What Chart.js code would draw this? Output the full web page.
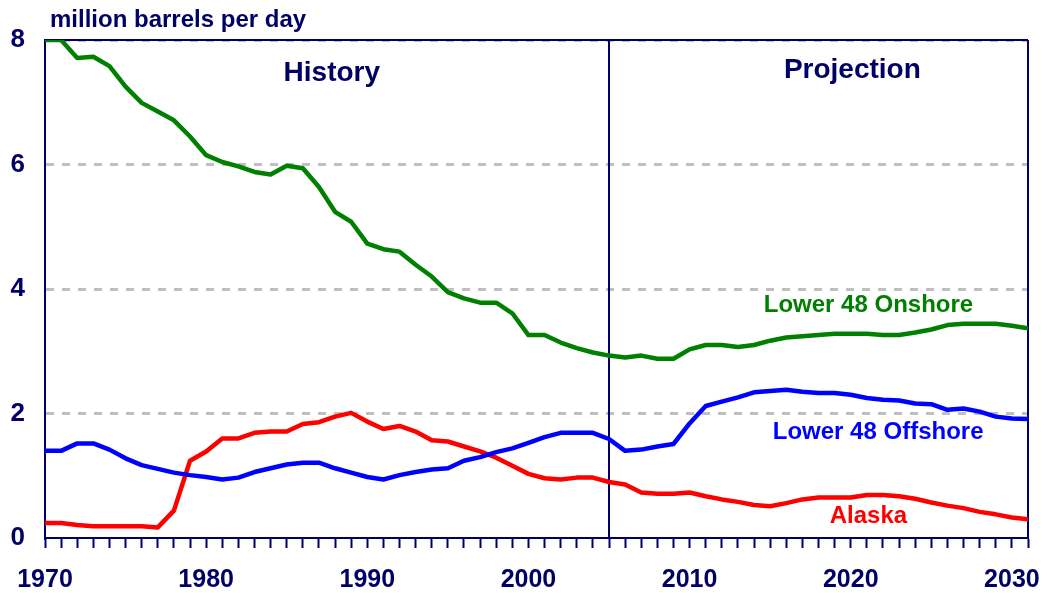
<!DOCTYPE html>
<html>
<head>
<meta charset="utf-8">
<script src="https://cdn.jsdelivr.net/npm/chart.js@4/dist/chart.umd.min.js"></script>
<style>
html,body{margin:0;padding:0;background:#fff;}
#wrap{width:1047px;height:593px;}
</style>
</head>
<body>
<div id="wrap"><canvas id="c" width="1047" height="593"></canvas></div>
<script>
const years = [1970,1971,1972,1973,1974,1975,1976,1977,1978,1979,
  1980,1981,1982,1983,1984,1985,1986,1987,1988,1989,
  1990,1991,1992,1993,1994,1995,1996,1997,1998,1999,
  2000,2001,2002,2003,2004,2005,2006,2007,2008,2009,
  2010,2011,2012,2013,2014,2015,2016,2017,2018,2019,
  2020,2021,2022,2023,2024,2025,2026,2027,2028,2029,
  2030,2031];

const onshore = [8.00,8.00,7.71,7.73,7.58,7.25,6.99,6.85,6.71,6.45,
  6.15,6.04,5.97,5.88,5.84,5.98,5.94,5.64,5.24,5.08,
  4.73,4.64,4.60,4.39,4.20,3.95,3.85,3.78,3.78,3.61,
  3.26,3.26,3.14,3.05,2.98,2.93,2.90,2.93,2.88,2.88,
  3.03,3.10,3.10,3.07,3.10,3.17,3.22,3.24,3.26,3.28,
  3.28,3.28,3.26,3.26,3.30,3.35,3.42,3.44,3.44,3.44,
  3.41,3.37];

const offshore = [1.40,1.40,1.52,1.52,1.42,1.28,1.17,1.11,1.05,1.01,
  0.98,0.94,0.97,1.06,1.12,1.18,1.21,1.21,1.12,1.05,
  0.98,0.94,1.01,1.06,1.10,1.12,1.24,1.30,1.38,1.44,
  1.53,1.62,1.69,1.69,1.69,1.59,1.40,1.42,1.47,1.51,
  1.84,2.12,2.19,2.26,2.34,2.36,2.38,2.35,2.33,2.33,
  2.30,2.25,2.22,2.21,2.16,2.15,2.06,2.08,2.03,1.95,
  1.92,1.91];

const alaska = [0.24,0.24,0.21,0.19,0.19,0.19,0.19,0.17,0.44,1.24,
  1.39,1.60,1.60,1.69,1.71,1.71,1.83,1.86,1.95,2.01,
  1.87,1.75,1.80,1.71,1.57,1.55,1.47,1.39,1.29,1.16,
  1.03,0.96,0.94,0.97,0.97,0.90,0.86,0.73,0.71,0.71,
  0.73,0.67,0.62,0.58,0.53,0.51,0.56,0.62,0.65,0.65,
  0.65,0.69,0.69,0.67,0.63,0.57,0.52,0.48,0.42,0.38,
  0.33,0.30];

const yTicks = [0,2,4,6,8];
const xLabelYears = [1970,1980,1990,2000,2010,2020,2030];
const historyEnd = 2005;

// annotation text anchored in data coordinates
const annotations = [
  {text:'History',            x:1987.8, y:7.47, color:'#000066', size:28},
  {text:'Projection',         x:2020.1, y:7.52, color:'#000066', size:28},
  {text:'Lower 48 Onshore',   x:2021.1, y:3.74, color:'#008000', size:24},
  {text:'Lower 48 Offshore',  x:2021.7, y:1.70, color:'#0000FF', size:24},
  {text:'Alaska',             x:2021.1, y:0.34, color:'#FF0000', size:24}
];
const unitLabel = 'million barrels per day';

const NAVY = '#000066';
const FONT = '"Liberation Sans", Arial, sans-serif';

const toXY = arr => years.map((yr,i)=>({x:yr, y:arr[i]}));

const framePlugin = {
  id:'frame',
  beforeDatasetsDraw(chart){
    const {ctx, chartArea:a, scales:{x}} = chart;
    ctx.save();
    ctx.strokeStyle = NAVY;
    ctx.lineWidth = 2;
    ctx.beginPath();
    ctx.moveTo(a.left, a.top); ctx.lineTo(a.right, a.top);
    ctx.moveTo(a.right, a.top); ctx.lineTo(a.right, a.bottom);
    const hx = Math.round(x.getPixelForValue(historyEnd));
    ctx.moveTo(hx, a.top); ctx.lineTo(hx, a.bottom);
    ctx.stroke();
    ctx.restore();
  },
  afterDraw(chart){
    const {ctx, chartArea:a, scales:{x,y}} = chart;
    ctx.save();
    ctx.textAlign = 'center';
    ctx.textBaseline = 'middle';
    annotations.forEach(an=>{
      ctx.fillStyle = an.color;
      ctx.font = 'bold ' + an.size + 'px ' + FONT;
      ctx.fillText(an.text, x.getPixelForValue(an.x), y.getPixelForValue(an.y));
    });
    ctx.textAlign = 'left';
    ctx.fillStyle = NAVY;
    ctx.font = 'bold 24px ' + FONT;
    ctx.fillText(unitLabel, a.left + 5, a.top - 20);
    ctx.restore();
  }
};

new Chart(document.getElementById('c'), {
  type:'line',
  data:{
    datasets:[
      {label:'Lower 48 Onshore', data:toXY(onshore), borderColor:'#008000', borderWidth:4.5},
      {label:'Lower 48 Offshore', data:toXY(offshore), borderColor:'#0000FF', borderWidth:4.5},
      {label:'Alaska', data:toXY(alaska), borderColor:'#FF0000', borderWidth:4.5}
    ]
  },
  options:{
    responsive:false,
    animation:false,
    elements:{point:{radius:0}, line:{tension:0, borderJoinStyle:'round', borderCapStyle:'round'}},
    layout:{padding:{top:40, right:19, left:0, bottom:0}},
    plugins:{legend:{display:false}, tooltip:{enabled:false}},
    scales:{
      x:{
        type:'linear',
        min:years[0], max:years[years.length-1],
        afterFit(s){ s.height = 55; },
        afterBuildTicks(s){ s.ticks = years.map(v=>({value:v})); },
        ticks:{
          autoSkip:false, maxRotation:0, minRotation:0,
          color:NAVY, font:{family:FONT, size:25, weight:'bold'},
          padding:17,
          callback:v => xLabelYears.includes(v) ? String(v) : ''
        },
        grid:{display:true, drawOnChartArea:false, drawTicks:true, tickLength:10, tickColor:NAVY, tickWidth:2},
        border:{display:true, color:NAVY, width:2}
      },
      y:{
        min:0, max:8,
        afterFit(s){ s.width = 45; },
        afterBuildTicks(s){ s.ticks = yTicks.map(v=>({value:v})); },
        ticks:{
          color:NAVY, font:{family:FONT, size:26, weight:'bold'}, padding:20,
          callback:v => String(v)
        },
        grid:{
          drawTicks:false,
          color:c => (c.tick && c.tick.value === 0) ? 'rgba(0,0,0,0)' : '#c0c0c0',
          lineWidth:3
        },
        border:{display:true, color:NAVY, width:2, dash:[8,8]}
      }
    }
  },
  plugins:[framePlugin]
});
</script>
</body>
</html>
